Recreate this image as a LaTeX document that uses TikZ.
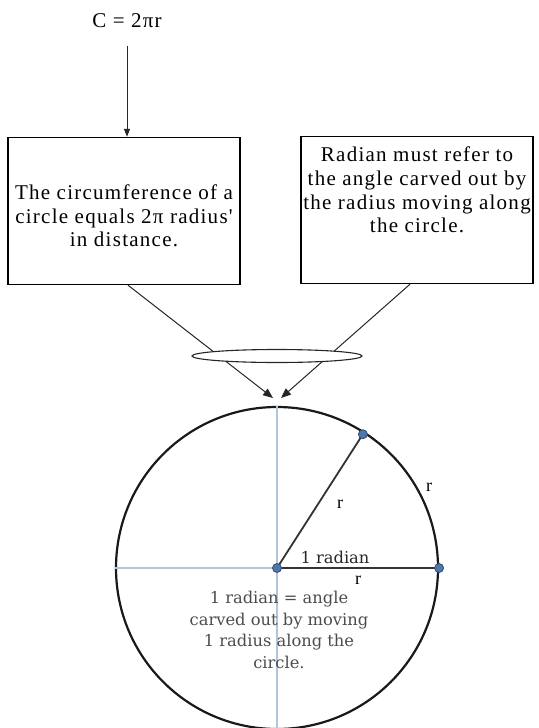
\documentclass[tikz,border=0pt]{standalone}
\usepackage{fontspec}
\setmainfont{Liberation Serif}
\newfontfamily\boxfont[LetterSpace=6]{Liberation Serif}
\newfontfamily\circfont{DejaVu Serif}
\usetikzlibrary{arrows.meta,shapes.geometric}
\definecolor{axisblue}{HTML}{B0C4DA}
\definecolor{dotblue}{HTML}{4F78A8}
\definecolor{dotedge}{HTML}{2F4F78}
\definecolor{txtgray}{HTML}{4C4C4C}
\tikzset{
  textbox/.style={draw=black, line width=1.4pt, minimum width=232pt, minimum height=147pt, inner sep=0pt},
  boxtext/.style={align=center, inner sep=0pt, font=\boxfont\fontsize{21}{23.7}\selectfont},
  connector/.style={line width=1pt, draw=black!85, -{Triangle[length=10pt,width=8pt]}},
  axisline/.style={draw=axisblue, line width=1.4pt},
  radline/.style={draw=black!80, line width=1.8pt},
  dotmark/.style={circle, fill=dotblue, draw=dotedge, line width=0.8pt, minimum size=9pt, inner sep=0pt},
  rlabel/.style={inner sep=0pt, font=\fontsize{18}{20}\selectfont},
  circtext/.style={align=center, inner sep=0pt, text=txtgray, font=\circfont\fontsize{16.3}{21.5}\selectfont}
}
\begin{document}
\begin{tikzpicture}[x=1pt,y=-1pt]
\useasboundingbox (0,0) rectangle (538,728);
% formula and first arrow
\node[boxtext] (formula) at (127,21) {C = 2πr};
\node[textbox] (lbox) at (124,211) {};
\node[boxtext] (ltext) at (124,216) {The circumference of a\\circle equals 2π radius'\\in distance.};
\node[textbox] (rbox) at (417,210) {};
\node[boxtext] (rtext) at (417,190) {Radian must refer to\\the angle carved out by\\the radius moving along\\the circle.};
\draw[line width=1pt, draw=black!85, -{Triangle[length=8pt,width=6pt]}, shorten <=18pt] (formula.south) -- (formula.south |- lbox.north);
% circle
\coordinate (O) at (277,568);
\node[draw=black!90, line width=2.2pt, circle, minimum size=322pt, inner sep=0pt] (circ) at (O) {};
\draw[axisline] (circ.north) -- (circ.south);
\draw[axisline] (circ.west) -- (circ.east);
% arrows from boxes
\coordinate (la) at ([xshift=4pt]lbox.south);
\coordinate (ra) at ([xshift=-7pt]rbox.south);
\coordinate (ltip) at (273,398);
\coordinate (rtip) at (281,398);
\draw[connector] (la) -- (ltip);
\draw[connector] (ra) -- (rtip);
\node[draw=black!85, line width=1.1pt, fill=white, ellipse, minimum width=170pt, minimum height=13pt, inner sep=0pt] (lens) at (277,356) {};
% radius lines
\coordinate (P) at ([shift={(57.3:159pt)}]O);
\draw[radline] (O) -- (P);
\draw[radline] (O) -- (circ.east);
\node[dotmark] (dotO) at (O) {};
\node[dotmark] (dotP) at (P) {};
\node[dotmark] (dotE) at (circ.east) {};
% labels
\node[rlabel] (r1) at (340,504) {r};
\node[rlabel] (r2) at (429,487) {r};
\node[rlabel] (r3) at (358,580) {r};
\node[circtext, text=black!85] (rad) at (335,557) {1 radian};
\node[circtext] (expl) at (279,630) {1 radian = angle\\carved out by moving\\1 radius along the\\circle.};
\end{tikzpicture}
\end{document}
